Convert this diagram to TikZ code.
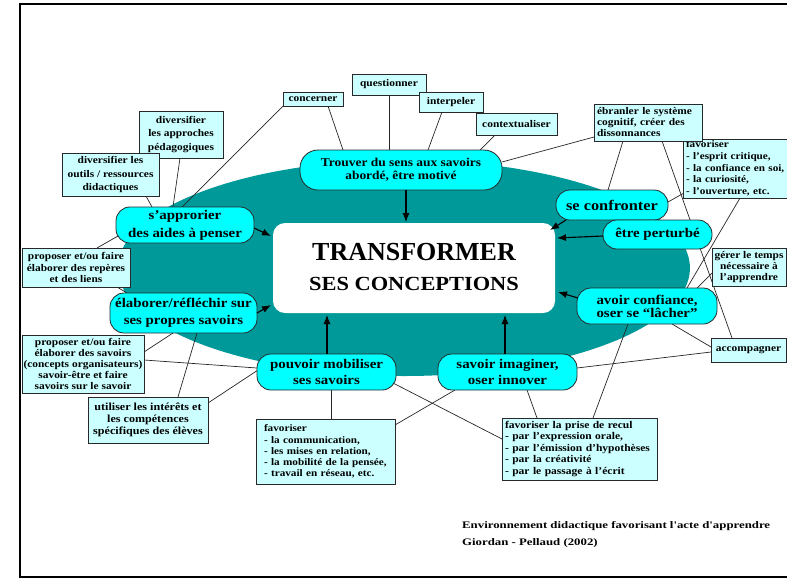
\documentclass[tikz,border=0pt]{standalone}
\usepackage{fontspec}
\setmainfont{Liberation Serif}
\newfontfamily\wide{Liberation Serif}[FakeStretch=1.12]
\newfontfamily\capf{Liberation Serif}[FakeStretch=1.28]
\usetikzlibrary{calc,arrows.meta}
\pgfdeclarelayer{back}
\pgfdeclarelayer{lines}
\pgfsetlayers{back,lines,main}
\definecolor{tealE}{RGB}{0,153,153}
\definecolor{cyanS}{RGB}{0,255,255}
\definecolor{cyanB}{RGB}{204,255,255}
\definecolor{edgeC}{RGB}{40,40,40}
\newcommand{\lnk}[4]{\draw[conn] ($(#1)+(#2)$) -- ($(#3)+(#4)$);}
\newcommand{\arw}[4]{\draw[arr] ($(#1)+(#2)$) -- ($(#3)+(#4)$);}
\begin{document}
\begin{tikzpicture}[x=1pt,y=-1pt,
  stad/.style={draw=edgeC, line width=0.8pt, fill=cyanS, rounded corners=14pt, inner sep=0pt, align=center,
    font=\wide\bfseries\fontsize{13.3}{16.5}\selectfont},
  bx/.style={draw=edgeC, line width=0.8pt, fill=cyanB, inner sep=0pt, align=center,
    font=\wide\bfseries\fontsize{10.2}{11.5}\selectfont},
  bxl/.style={bx, align=left, inner xsep=3pt},
  conn/.style={line width=0.7pt, draw=black!85},
  arr/.style={line width=1.1pt, -{Latex[length=9pt,width=7pt]}}
]
\useasboundingbox (0,0) rectangle (787,579);
\begin{pgfonlayer}{back}
\fill[white] (0,0) rectangle (787,579);
\draw[line width=2.5pt] (790,4) -- (20,4) -- (20,577) -- (790,577);
\fill[tealE] (404,268) ellipse [x radius=286pt, y radius=108pt];
\end{pgfonlayer}

% centre
\node[fill=white, rounded corners=12pt, minimum width=282pt, minimum height=90pt, inner sep=0pt] (ctr) at (414,268) {};
\node[anchor=base, inner sep=0pt, font=\bfseries\fontsize{26}{26}\selectfont] (t1) at (414,260) {TRANSFORMER};
\node[anchor=base, inner sep=0pt, font=\wide\bfseries\fontsize{20}{20}\selectfont] (t2) at (414,290) {SES CONCEPTIONS};

% top boxes
\node[bx, minimum width=60pt, minimum height=14pt] (concerner) at (313,99) {concerner};
\node[bx, minimum width=74pt, minimum height=21pt] (questionner) at (389,84.5) {questionner};
\node[bx, minimum width=64pt, minimum height=20pt] (interpeler) at (451,102) {interpeler};
\node[bx, minimum width=81pt, minimum height=22pt] (context) at (516.5,124) {contextualiser};
\node[stad, minimum width=202pt, minimum height=40pt, rounded corners=18pt,
  font=\wide\bfseries\fontsize{12}{13.5}\selectfont] (trouver) at (401,170) {Trouver du sens aux savoirs\\abordé, être motivé};

% right side
\node[bxl, text width=100pt, minimum height=59pt, font=\wide\bfseries\fontsize{10}{11.7}\selectfont] (favcrit) at (736,168.5) {favoriser\\- l’esprit critique,\\- la confiance en soi,\\- la curiosité,\\- l’ouverture, etc.};
\node[bxl, text width=102pt, minimum height=37pt, font=\wide\bfseries\fontsize{10.2}{11}\selectfont] (ebranler) at (648,122.5) {ébranler le système\\cognitif, créer des\\dissonnances};
\node[stad, minimum width=112pt, minimum height=30pt, font=\wide\bfseries\fontsize{14.6}{16}\selectfont] (seconf) at (612,205) {se confronter};
\node[stad, minimum width=109pt, minimum height=29pt] (perturbe) at (657.5,234.5) {être perturbé};
\node[bx, minimum width=74pt, minimum height=38pt, font=\wide\bfseries\fontsize{10.2}{11}\selectfont] (gerer) at (749,267) {gérer le temps\\nécessaire à\\l’apprendre};
\node[stad, minimum width=140pt, minimum height=36pt, font=\wide\bfseries\fontsize{13.3}{13}\selectfont] (avoir) at (647,306) {avoir confiance,\\oser se “lâcher”};
\node[bx, minimum width=75pt, minimum height=24pt] (accomp) at (748.5,350) {accompagner};

% bottom
\node[stad, minimum width=139pt, minimum height=36pt] (imaginer) at (507.5,372) {savoir imaginer,\\oser innover};
\node[stad, minimum width=139pt, minimum height=36pt] (pouvoir) at (326.5,372) {pouvoir mobiliser\\ses savoirs};
\node[bxl, text width=123pt, inner xsep=8pt, minimum height=65pt, font=\wide\bfseries\fontsize{10}{11.2}\selectfont] (favcomm) at (325.5,451.5) {favoriser\\- la communication,\\- les mises en relation,\\- la mobilité de la pensée,\\- travail en réseau, etc.};
\node[bxl, text width=149pt, minimum height=62pt, font=\wide\bfseries\fontsize{10.3}{11.5}\selectfont] (recul) at (579.5,449) {favoriser la prise de recul\\- par l’expression orale,\\- par l’émission d’hypothèses\\- par la créativité\\- par le passage à l’écrit};

% left side
\node[bx, minimum width=120pt, minimum height=46pt, font=\wide\bfseries\fontsize{10.8}{11.7}\selectfont] (utiliser) at (148,420) {utiliser les intérêts et\\les compétences\\spécifiques des élèves};
\node[bx, minimum width=122pt, minimum height=58pt, font=\wide\bfseries\fontsize{10.2}{11.2}\selectfont] (propsav) at (83,364) {proposer et/ou faire\\élaborer des savoirs\\(concepts organisateurs)\\savoir-être et faire\\savoirs sur le savoir};
\node[stad, minimum width=147pt, minimum height=40pt, font=\wide\bfseries\fontsize{13.3}{16.7}\selectfont] (elab) at (183.5,313) {élaborer/réfléchir sur\\ses propres savoirs};
\node[bx, minimum width=108pt, minimum height=39pt, font=\wide\bfseries\fontsize{10.2}{11.2}\selectfont] (reperes) at (76,267.5) {proposer et/ou faire\\élaborer des repères\\et des liens};
\node[stad, minimum width=138pt, minimum height=36pt, font=\wide\bfseries\fontsize{13.3}{18}\selectfont] (sa) at (185,225) {s’approrier\\des aides à penser};
\node[bx, minimum width=84pt, minimum height=47pt, font=\wide\bfseries\fontsize{10.2}{13.5}\selectfont] (divapp) at (181,134.5) {diversifier\\les approches\\pédagogiques};
\node[bx, minimum width=97pt, minimum height=43pt, font=\wide\bfseries\fontsize{10.2}{13.3}\selectfont] (divout) at (110.5,174.5) {diversifier les\\outils / ressources\\didactiques};

% caption
\node[anchor=base west, inner sep=0pt, font=\capf\bfseries\fontsize{10}{12}\selectfont] (cap1) at (462,528) {Environnement didactique favorisant l'acte d'apprendre};
\node[anchor=base west, inner sep=0pt, font=\capf\bfseries\fontsize{10}{12}\selectfont] (cap2) at (462,545) {Giordan - Pellaud (2002)};

% connectors
\begin{pgfonlayer}{lines}
\lnk{concerner}{15,7}{trouver}{-58,-20}
\lnk{concerner}{-30,7}{sa}{-3,-18}
\lnk{questionner}{0,10}{trouver}{-12,-20}
\lnk{interpeler}{-9,10}{trouver}{27,-20}
\lnk{context}{-21.5,11}{trouver}{79,-20}
\lnk{ebranler}{-54,14.5}{trouver}{101,-8}
\lnk{ebranler}{-25,18.5}{seconf}{-4,-15}
\lnk{ebranler}{14,18.5}{accomp}{-16.5,-12}
\lnk{favcrit}{-52,24.5}{seconf}{56,-3}
\lnk{favcrit}{4,29.5}{avoir}{40,-18}
\lnk{gerer}{-37,6}{avoir}{50,-18}
\lnk{avoir}{25,18}{accomp}{-37.5,-3}
\lnk{imaginer}{69.5,-4}{accomp}{-37.5,2}
\lnk{avoir}{-19,18}{recul}{13.5,-31}
\lnk{imaginer}{19.5,18}{recul}{-42.5,-31}
\lnk{pouvoir}{66.5,11}{recul}{-77.5,-10}
\lnk{imaginer}{-52.5,18}{favcomm}{69.5,-26.5}
\lnk{pouvoir}{4.5,18}{favcomm}{5.5,-32.5}
\lnk{propsav}{61,-4}{pouvoir}{-69.5,-4}
\lnk{utiliser}{60,-17}{pouvoir}{-68.5,-2}
\lnk{propsav}{61,-12}{elab}{-10.5,20}
\lnk{elab}{13.5,20}{utiliser}{30,-23}
\lnk{reperes}{41,19.5}{elab}{-56.5,-20}
\lnk{reperes}{21,-19.5}{sa}{-67,11}
\lnk{divout}{35.5,21.5}{sa}{-33,-18}
\lnk{divapp}{-1,23.5}{sa}{-12,-18}
\end{pgfonlayer}

% arrows to the centre
\arw{trouver}{5,20}{ctr}{-8,-46}
\arw{sa}{69,3}{ctr}{-143,-32}
\arw{elab}{73.5,0}{ctr}{-143,37}
\arw{pouvoir}{0.5,-18}{ctr}{-87,47}
\arw{imaginer}{-2.5,-18}{ctr}{91,47}
\arw{seconf}{-46,15}{ctr}{136,-38}
\arw{perturbe}{-54.5,1.5}{ctr}{143,-30}
\arw{avoir}{-69,-8}{ctr}{144,24}
\end{tikzpicture}
\end{document}
